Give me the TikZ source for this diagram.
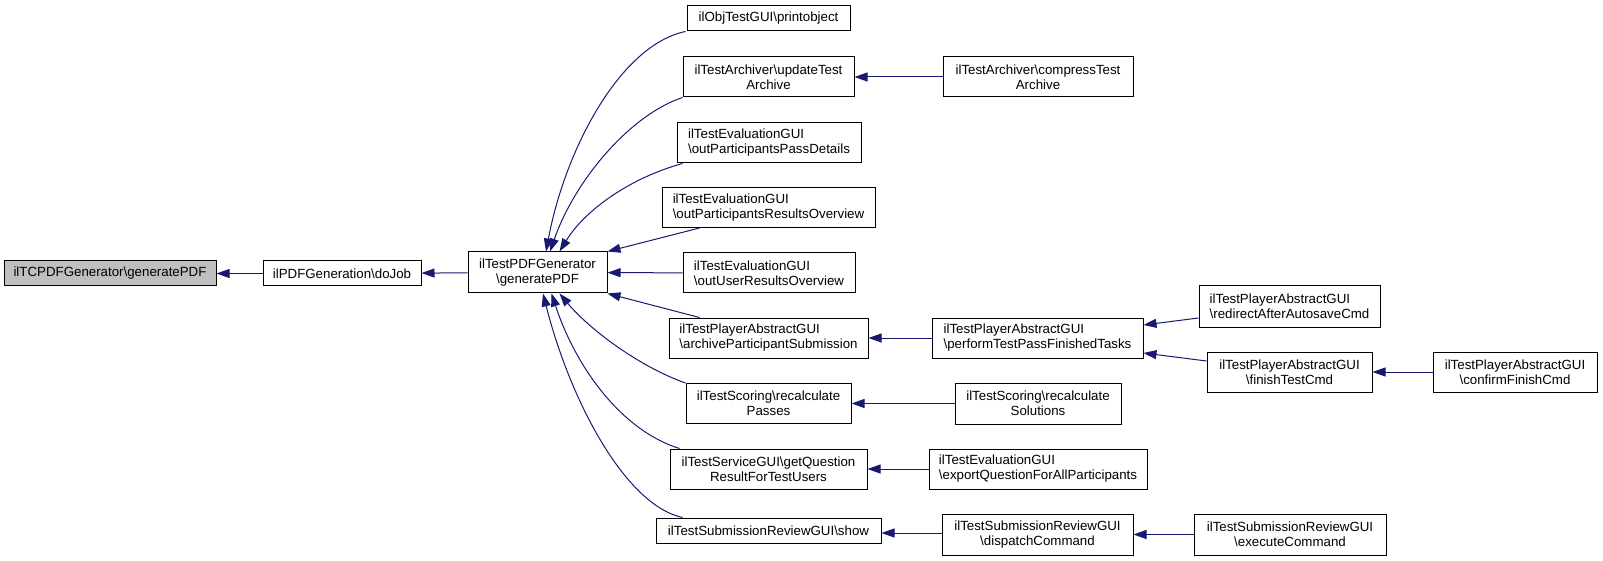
\documentclass[tikz,border=0pt]{standalone}
\usepackage{fontspec}
\setmainfont{Liberation Sans}
\usetikzlibrary{arrows.meta}
\definecolor{edgeblue}{HTML}{191970}
\definecolor{rootgray}{HTML}{BFBFBF}
\tikzset{
  fn/.style={draw=black, line width=1pt, fill=white, inner sep=0pt,
    minimum height=25pt, font=\fontsize{13.3}{15}\selectfont, align=center},
  fntwo/.style={fn, minimum height=40pt},
  call/.style={->, draw=edgeblue, line width=1pt},
}
\newcommand{\bs}{\textbackslash}

\begin{document}
\begin{tikzpicture}[x=1pt, y=-1pt, >={Triangle[length=13pt,width=9pt]}]
  \useasboundingbox (0,0) rectangle (1603,561);
  % root and first callers
  \node (tcpdf) at (110,273.5) [fn, fill=rootgray, minimum width=212pt] {ilTCPDFGenerator\bs generatePDF};
  \node (dojob) at (342,273.5) [fn, minimum width=158pt] {ilPDFGeneration\bs doJob};
  \node (pdfgen) at (537.5,272.5) [fntwo, minimum width=139pt, minimum height=41pt] {ilTestPDFGenerator\\\bs generatePDF};
  % callers of ilTestPDFGenerator
  \node (printobj) at (768.5,18.5) [fn, minimum width=163pt] {ilObjTestGUI\bs printobject};
  \node (updarch) at (768.5,77) [fntwo, minimum width=171pt] {ilTestArchiver\bs updateTest\\Archive};
  \node (passdet) at (769,143) [fntwo, minimum width=184pt, align=left] {ilTestEvaluationGUI\\\bs outParticipantsPassDetails};
  \node (resover) at (768.5,207.5) [fntwo, minimum width=213pt, align=left] {ilTestEvaluationGUI\\\bs outParticipantsResultsOverview};
  \node (userover) at (769,273) [fntwo, minimum width=172pt, align=left] {ilTestEvaluationGUI\\\bs outUserResultsOverview};
  \node (archsub) at (768.5,338) [fntwo, minimum width=199pt, align=left] {ilTestPlayerAbstractGUI\\\bs archiveParticipantSubmission};
  \node (recpass) at (768.5,403.5) [fntwo, minimum width=165pt] {ilTestScoring\bs recalculate\\Passes};
  \node (getques) at (768.5,469) [fntwo, minimum width=197pt] {ilTestServiceGUI\bs getQuestion\\ResultForTestUsers};
  \node (show) at (768.5,530.5) [fn, minimum width=225pt] {ilTestSubmissionReviewGUI\bs show};
  % third column
  \node (comparch) at (1038,77) [fntwo, minimum width=190pt] {ilTestArchiver\bs compressTest\\Archive};
  \node (perform) at (1037.5,338) [fntwo, minimum width=211pt, align=left] {ilTestPlayerAbstractGUI\\\bs performTestPassFinishedTasks};
  \node (recsol) at (1038,403.5) [fntwo, minimum width=166pt, minimum height=41pt] {ilTestScoring\bs recalculate\\Solutions};
  \node (expques) at (1038,469) [fntwo, minimum width=218pt, align=left] {ilTestEvaluationGUI\\\bs exportQuestionForAllParticipants};
  \node (dispatch) at (1037.5,534.5) [fntwo, minimum width=191pt, minimum height=41pt] {ilTestSubmissionReviewGUI\\\bs dispatchCommand};
  % fourth and fifth column
  \node (redirect) at (1289.5,306.5) [fntwo, minimum width=181pt, minimum height=41pt, align=left] {ilTestPlayerAbstractGUI\\\bs redirectAfterAutosaveCmd};
  \node (finish) at (1289.5,372) [fntwo, minimum width=165pt] {ilTestPlayerAbstractGUI\\\bs finishTestCmd};
  \node (execute) at (1290,534.5) [fntwo, minimum width=192pt, minimum height=41pt] {ilTestSubmissionReviewGUI\\\bs executeCommand};
  \node (confirm) at (1515,372) [fntwo, minimum width=164pt] {ilTestPlayerAbstractGUI\\\bs confirmFinishCmd};

  % calls
  \draw [call] (dojob) -- (tcpdf);
  \draw [call] (pdfgen) -- (dojob);
  \draw [call] ([xshift=-1pt]printobj.south west) .. controls (620,45) and (565,150) .. ([xshift=8.5pt]pdfgen.north);
  \draw [call] (updarch.south west) .. controls (630,115) and (575,180) .. ([xshift=12.5pt]pdfgen.north);
  \draw [call] ([xshift=6pt]passdet.south west) .. controls (630,178) and (585,210) .. ([xshift=22pt]pdfgen.north);
  \draw [call] ([xshift=38pt]resover.south west) -- (pdfgen.north east);
  \draw [call] (userover) -- (pdfgen);
  \draw [call] ([xshift=31pt]archsub.north west) -- (pdfgen.south east);
  \draw [call] (recpass.north west) .. controls (640,367) and (590,330) .. ([xshift=22pt]pdfgen.south);
  \draw [call] ([xshift=10pt]getques.north west) .. controls (620,430) and (575,365) .. ([xshift=14pt]pdfgen.south);
  \draw [call] ([xshift=27pt]show.north west) .. controls (625,505) and (570,400) .. ([xshift=5.5pt]pdfgen.south);
  \draw [call] (comparch) -- (updarch);
  \draw [call] (perform) -- (archsub);
  \draw [call] ([yshift=-11.5pt]redirect.west) -- ([yshift=13pt]perform.east);
  \draw [call] ([yshift=11pt]finish.west) -- ([yshift=-15pt]perform.east);
  \draw [call] (confirm) -- (finish);
  \draw [call] (recsol) -- (recpass);
  \draw [call] (expques) -- (getques);
  \draw [call] ([yshift=1.5pt]dispatch.west) -- ([yshift=-2.5pt]show.east);
  \draw [call] (execute) -- (dispatch);
\end{tikzpicture}
\end{document}
